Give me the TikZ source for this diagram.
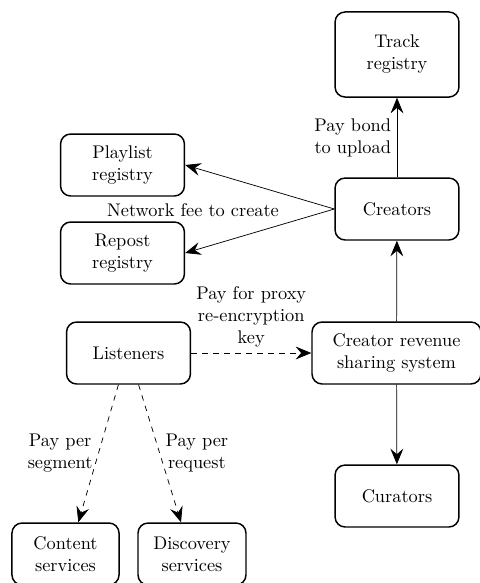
\documentclass[tikz,border=0pt]{standalone}
\usetikzlibrary{arrows.meta}
\begin{document}
\begin{tikzpicture}[x=0.5455pt,y=-0.5455pt,
  box/.style={draw, thick, rounded corners=5.5pt, align=center, minimum width=67.6pt, minimum height=33.8pt, inner sep=3pt},
  arr/.style={-{Stealth[length=8.5pt,width=7pt,inset=3pt]}},
  lbl/.style={align=center, inner sep=3pt}]
\useasboundingbox (0,0) rectangle (480,583);
\node[box, minimum height=46.4pt] (track) at (397,54.5) {Track\\registry};
\node[box] (creators) at (397,209) {Creators};
\node[box] (playlist) at (122.5,165) {Playlist\\registry};
\node[box] (repost) at (122.5,253) {Repost\\registry};
\node[box] (listeners) at (128.5,353) {Listeners};
\node[box, minimum width=92.2pt] (crss) at (396.5,353) {Creator revenue\\sharing system};
\node[box] (curators) at (397,496) {Curators};
\node[box, minimum width=58.4pt] (content) at (65.5,554) {Content\\services};
\node[box, minimum width=58.9pt] (discovery) at (192,554) {Discovery\\services};

\draw[arr] (creators) -- node[lbl, midway, left] {Pay bond\\to upload} (track);
\draw[arr] (creators.west) -- (playlist.east);
\draw[arr] (creators.west) -- (repost.east);
\node[lbl] (netfee) at (193,210) {Network fee to create};
\draw[arr] (crss) -- (creators);
\draw[arr] (crss) -- (curators);
\draw[arr, dashed] (listeners) -- node[lbl, midway, above] {Pay for proxy\\re-encryption\\key} (crss);
\draw[arr, dashed] ([xshift=-5.5pt]listeners.south) -- node[lbl, midway, left] {Pay per\\segment} ([xshift=7pt]content.north);
\draw[arr, dashed] ([xshift=5.5pt]listeners.south) -- node[lbl, midway, right] {Pay per\\request} ([xshift=-6pt]discovery.north);
\end{tikzpicture}
\end{document}
